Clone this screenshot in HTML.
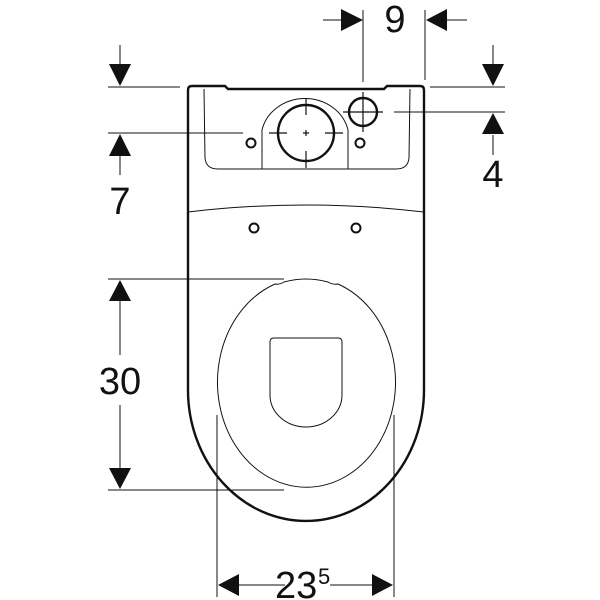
<!DOCTYPE html>
<html><head><style>body{margin:0;background:#fff}svg{display:block}text{font-family:"Liberation Sans",sans-serif;fill:#111}</style></head>
<body>
<svg width="600" height="600" viewBox="0 0 600 600" xmlns="http://www.w3.org/2000/svg">
<g fill="none" stroke="#111">
<!-- body -->
<path d="M188,520 M188,390 L188,90 Q188,86 192,86 L225,86 L228,89 L384,89 L387,86 L420,86 Q424,86 424,90 L424,390 A118,131 0 0 1 188,390" stroke-width="2.4"/>
<!-- tank inner -->
<path d="M204,89 L205,158 Q206,169 218,169 L396,169 Q408,169 409,158 L410,89" stroke-width="1"/>
<path d="M262,169 L262,130 A44,40 0 0 1 348,130 L348,169" stroke-width="1"/>
<circle cx="306" cy="133" r="28" stroke-width="2.4"/>
<circle cx="363" cy="112" r="14" stroke-width="2.4"/>
<circle cx="251" cy="143" r="4.5" stroke-width="2"/>
<circle cx="360" cy="143" r="4.5" stroke-width="2"/>
<path d="M306,98 V115 M306,151 V168 M269,133 H287 M325,133 H343 M303,133 H309 M306,130 V136 M363,92 V132 M343,112 H383" stroke-width="1.2"/>
<!-- curve -->
<path d="M188,212 Q306,198 424,212" stroke-width="1"/>
<circle cx="254" cy="228" r="4.5" stroke-width="2"/>
<circle cx="356" cy="228" r="4.5" stroke-width="2"/>
<!-- seat -->
<path d="M284,282 Q306,276 328,282 Q333,285 338,284 A89,105 0 1 1 275,284 Q279,285 284,282 Z" stroke-width="1"/>
<path d="M274,338 H338 Q342,338 342,342 V395 A36,32 0 0 1 270,395 V342 Q270,338 274,338 Z" stroke-width="1"/>
<!-- dimension lines -->
<path d="M108,87 H180 M108,133 H243 M430,87 H505 M394,112 H505 M363,10 V82 M425,10 V80 M108,279 H284 M108,490 H284 M217,415 V597 M394,415 V597 M120,45 V65 M120,155 V175 M493,45 V65 M493,135 V155 M323,20 H343 M447,20 H467 M120,300 V355 M120,405 V470 M237,585 H285 M330,585 H374" stroke-width="1"/>
</g>
<g fill="#111">
<path d="M109,64 H131 L120,86 Z"/>
<path d="M109,156 H131 L120,134 Z"/>
<path d="M482,64 H504 L493,86 Z"/>
<path d="M482,134 H504 L493,113 Z"/>
<path d="M341,9 V31 L363,20 Z"/>
<path d="M447,9 V31 L426,20 Z"/>
<path d="M109,301 H131 L120,280 Z"/>
<path d="M109,468 H131 L120,489 Z"/>
<path d="M239,574 V596 L218,585 Z"/>
<path d="M372,574 V596 L393,585 Z"/>
</g>
<text x="395" y="32" font-size="38" text-anchor="middle">9</text>
<text x="120" y="214" font-size="38" text-anchor="middle">7</text>
<text x="493" y="187" font-size="38" text-anchor="middle">4</text>
<text x="120" y="394" font-size="38" text-anchor="middle">30</text>
<text x="275" y="598" font-size="38">23</text>
<text x="318" y="584" font-size="22">5</text>
</svg>
</body></html>
